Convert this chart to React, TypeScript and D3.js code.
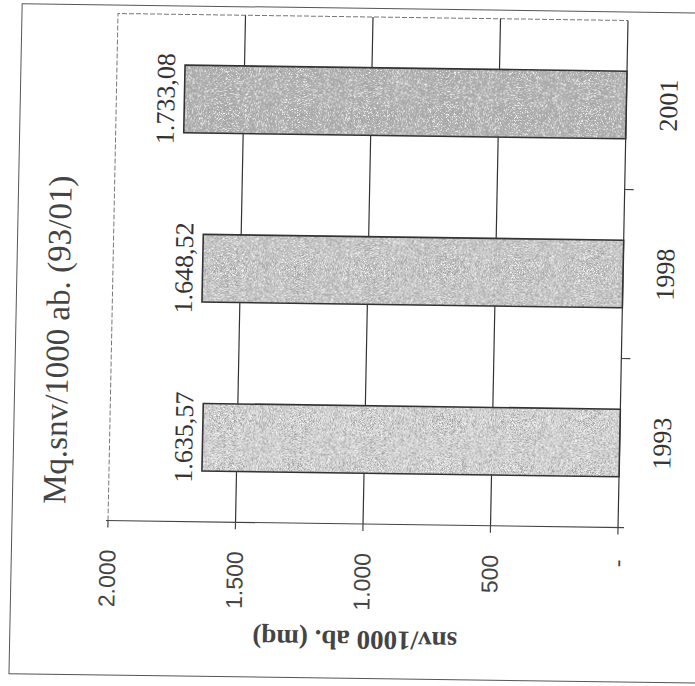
import * as d3 from "d3";

// data (chart is printed rotated 90° CCW)
const categories = ["1993", "1998", "2001"];
const values = [1635.57, 1648.52, 1733.08];
const valueLabels = ["1.635,57", "1.648,52", "1.733,08"];
const tickValues = [0, 500, 1000, 1500, 2000];
const tickLabels = ["-", "500", "1.000", "1.500", "2.000"];
const title = "Mq.snv/1000 ab. (93/01)";
const axisTitle = "snv/1000 ab. (mq)";

const BAR_FILL: Record<string, string> = {
  "1993": "#d6d6d6",
  "1998": "#c8c8c8",
  "2001": "#b0b0b0",
};

const W = 695;
const H = 686;
const plot = { left: 113, right: 623, top: 17, bottom: 524 };

// slight skew of the scanned page
const skewA = -0.0197;
const skewB = 0.0137;
const cx = 368;
const cy = 271;

const SERIF = "'Liberation Serif', 'DejaVu Serif', serif";
const SANS = "'Liberation Sans', Arial, sans-serif";

export default function App() {
  const x = d3.scaleLinear().domain([0, 2000]).range([plot.right, plot.left]);
  const y = d3
    .scaleBand<string>()
    .domain([...categories].reverse())
    .range([plot.top, plot.bottom])
    .paddingInner(0.6)
    .paddingOuter(0.3);
  const step = y.step();
  const bw = y.bandwidth();

  const catBounds = d3.range(categories.length + 1).map((k) => plot.top + k * step);

  return (
    <div style={{ position: "absolute", left: 0, top: 0 }}>
      <svg width={W} height={H} viewBox={`0 0 ${W} ${H}`} style={{ display: "block", background: "#fff" }}>
        <defs>
          <filter id="grain" x="0" y="0" width="100%" height="100%">
            <feTurbulence type="fractalNoise" baseFrequency="1.1 1.6" numOctaves="2" seed="7" result="n" />
            <feColorMatrix
              in="n"
              type="matrix"
              values="0 0 0 0 1  0 0 0 0 1  0 0 0 0 1  5 0 0 0 -2.6"
              result="w"
            />
            <feComposite in="w" in2="SourceGraphic" operator="in" result="wc" />
            <feColorMatrix
              in="n"
              type="matrix"
              values="0 0 0 0 0.35  0 0 0 0 0.35  0 0 0 0 0.35  0 5 0 0 -2.4"
              result="d"
            />
            <feComposite in="d" in2="SourceGraphic" operator="in" result="dc" />
            <feMerge>
              <feMergeNode in="SourceGraphic" />
              <feMergeNode in="wc" />
              <feMergeNode in="dc" />
            </feMerge>
          </filter>
        </defs>

        <g transform={`matrix(1,${skewB},${skewA},1,${-skewA * cy},${-skewB * cx})`}>
          {/* outer frame */}
          <rect x={17} y={8.5} width={690} height={670} fill="none" stroke="#555" strokeWidth={1} />

          {/* plot area border (top / left) */}
          <path
            d={`M${plot.left},${plot.bottom} V${plot.top} H${plot.right}`}
            fill="none"
            stroke="#777"
            strokeWidth={1}
            strokeDasharray="5 2"
          />

          {/* gridlines */}
          {tickValues
            .filter((v) => v > 0 && v < 2000)
            .map((v) => (
              <line key={v} x1={x(v)} x2={x(v)} y1={plot.top} y2={plot.bottom} stroke="#333" strokeWidth={1.2} />
            ))}

          {/* value axis */}
          <line x1={plot.left - 2} x2={plot.right + 6} y1={plot.bottom} y2={plot.bottom} stroke="#444" strokeWidth={1.2} />
          {tickValues.map((v, i) => (
            <g key={v}>
              <line x1={x(v)} x2={x(v)} y1={plot.bottom} y2={plot.bottom + 7} stroke="#444" strokeWidth={1.2} />
              <text
                transform={`translate(${x(v)},${553 + (v === 0 ? 3 : 0)}) rotate(-90)`}
                textAnchor="end"
                dominantBaseline="central"
                fontFamily={SANS}
                fontSize={23}
                fill="#444"
              >
                {tickLabels[i]}
              </text>
            </g>
          ))}

          {/* category axis */}
          <line x1={plot.right} x2={plot.right} y1={plot.top} y2={plot.bottom} stroke="#333" strokeWidth={1.2} />
          {catBounds.slice(1, -1).map((b) => (
            <line key={b} x1={plot.right} x2={plot.right + 9} y1={b} y2={b} stroke="#444" strokeWidth={1.2} />
          ))}

          {/* bars */}
          {categories.map((c, i) => {
            const by = y(c) ?? 0;
            const bx = x(values[i]);
            const w = x(0) - bx;
            return (
              <g key={c}>
                <rect x={bx} y={by} width={w} height={bw} fill={BAR_FILL[c]} filter="url(#grain)" />
                <rect x={bx} y={by} width={w} height={bw} fill="none" stroke="#333" strokeWidth={1.6} />
                <text
                  transform={`translate(${bx - 10},${by + bw / 2}) rotate(-90)`}
                  textAnchor="middle"
                  fontFamily={SERIF}
                  fontSize={26}
                  fill="#333"
                >
                  {valueLabels[i]}
                </text>
                <text
                  transform={`translate(${674},${by + bw / 2}) rotate(-90)`}
                  textAnchor="middle"
                  fontFamily={SERIF}
                  fontSize={26}
                  fill="#333"
                >
                  {c}
                </text>
              </g>
            );
          })}

          {/* titles */}
          <text
            transform={`translate(70,344) rotate(-90)`}
            textAnchor="middle"
            fontFamily={SERIF}
            fontSize={33}
            fill="#444"
          >
            {title}
          </text>
          <text
            transform={`translate(362,640) rotate(180)`}
            textAnchor="middle"
            dominantBaseline="central"
            fontFamily={SERIF}
            fontSize={27}
            fontWeight="bold"
            fill="#444"
          >
            {axisTitle}
          </text>
        </g>
      </svg>
    </div>
  );
}
